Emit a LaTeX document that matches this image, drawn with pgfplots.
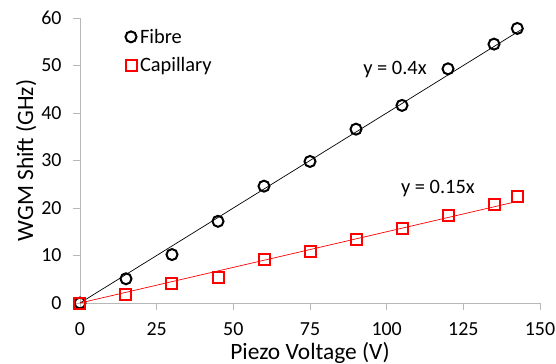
\documentclass[border=0pt]{standalone}
\usepackage{fontspec}
\setmainfont{Carlito}
\usepackage{pgfplots}
\pgfplotsset{compat=1.18}
\begin{document}
\begin{tikzpicture}
\begin{axis}[
  name=ax,
  scale only axis,
  width=460bp, height=285bp,
  xmin=0, xmax=150, ymin=0, ymax=60,
  xtick={0,25,50,75,100,125,150},
  ytick={0,10,20,30,40,50,60},
  axis x line*=bottom, axis y line*=left,
  axis line style={draw=black!28, line width=0.8bp, -},
  tick style={draw=black!28, line width=0.8bp},
  tick align=outside,
  major tick length=7bp,
  /pgf/number format/assume math mode=true,
  tick label style={font=\fontsize{20}{24}\selectfont, text=black},
  xticklabel style={yshift=-9bp},
  yticklabel style={xshift=-8bp},
  label style={font=\fontsize{23.5}{28}\selectfont, text=black},
  xlabel={Piezo Voltage (V)},
  ylabel={WGM Shift (GHz)},
  xlabel style={at={(axis description cs:0.5,-0.1965)}, anchor=base},
  ylabel style={at={(axis description cs:-0.102,0.5)}, anchor=base},
  clip=false,
  legend style={draw=none, fill=none, at={(rel axis cs:0.092,0.976)}, anchor=north west,
    font=\fontsize{20.5}{24}\selectfont, row sep=9bp, column sep=0bp,
    nodes={inner xsep=3.5bp, text=black}, cells={anchor=west}},
  legend image code/.code={\draw[#1] plot coordinates {(0cm,0cm)};},
]
\addplot[black, line width=0.7bp, forget plot] coordinates {(0,0) (144,57.6)};
\addplot[red, line width=0.7bp, forget plot] coordinates {(0,0) (143,21.45)};
\addplot[black, only marks, mark=o, mark size=5.5bp, mark options={draw=black, line width=2bp}]
 coordinates {(0,0) (15,5.1) (30,10.2) (45,17.2) (60,24.6) (75,29.8) (90,36.6) (105,41.6) (120,49.3) (135,54.5) (142.6,57.8)};
\addlegendentry{Fibre}
\addplot[red, only marks, mark=square, mark size=5.5bp, mark options={draw=red, line width=2bp}]
 coordinates {(0,0) (15,1.75) (30,4.1) (45,5.4) (60,9.2) (75,10.9) (90,13.3) (105,15.6) (120,18.4) (135,20.7) (142.6,22.5)};
\addlegendentry{Capillary}
\node[font=\fontsize{20.5}{24}\selectfont, text=black] at (axis cs:102.7,49.1) {y = 0.4x};
\node[font=\fontsize{20.5}{24}\selectfont, text=black] at (axis cs:116.7,24.2) {y = 0.15x};
\end{axis}
\pgfresetboundingbox
\path[use as bounding box] (ax.south west) ++(-80bp,-61bp) rectangle ++(556bp,364bp);
\end{tikzpicture}
\end{document}
